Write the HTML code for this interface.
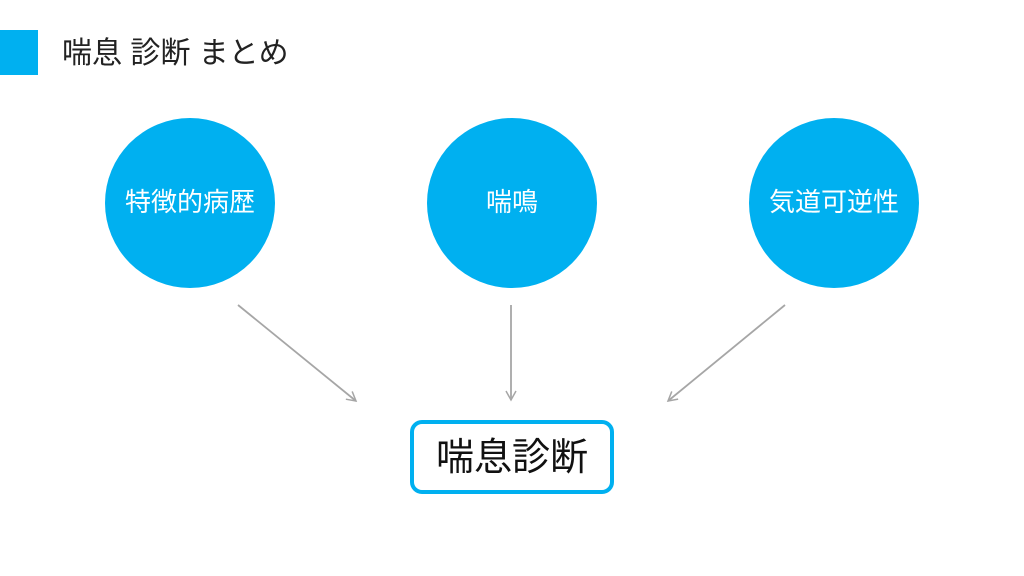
<!DOCTYPE html>
<html><head><meta charset="utf-8"><style>
body{margin:0;width:1024px;height:576px;background:#fff;position:relative;overflow:hidden;font-family:"Liberation Sans","Noto Sans CJK JP",sans-serif}
.t{position:absolute;white-space:nowrap}
</style></head><body>
<div style="position:absolute;left:0;top:30px;width:38px;height:45px;background:#00b0f0"></div>
<div class="t" style="left:62px;top:35px;font-size:30px;line-height:38px;color:#222">喘息 診断 まとめ</div>
<svg width="1024" height="576" style="position:absolute;left:0;top:0">
<defs><marker id="a" markerWidth="12" markerHeight="12" refX="10" refY="6" orient="auto" markerUnits="userSpaceOnUse"><path d="M1,1 L10,6 L1,11" fill="none" stroke="#a6a6a6" stroke-width="1.5"/></marker></defs>
<circle cx="190" cy="203" r="85" fill="#00b0f0"/>
<circle cx="512" cy="203" r="85" fill="#00b0f0"/>
<circle cx="834" cy="203" r="85" fill="#00b0f0"/>
<g stroke="#a6a6a6" stroke-width="1.8" fill="none" marker-end="url(#a)">
<line x1="238" y1="305" x2="356" y2="401"/>
<line x1="511" y1="305" x2="511" y2="400"/>
<line x1="785" y1="305" x2="668" y2="401"/>
</g>
<rect x="412" y="422" width="200" height="70" rx="10" fill="#fff" stroke="#00b0f0" stroke-width="4"/>
<g font-family="Liberation Sans, Noto Sans CJK JP, sans-serif" fill="#fff" font-size="26" text-anchor="middle">
<text x="190" y="211">特徴的病歴</text>
<text x="512" y="211">喘鳴</text>
<text x="834" y="211">気道可逆性</text>
</g>
<text x="512" y="470" font-family="Liberation Sans, Noto Sans CJK JP, sans-serif" font-size="38" fill="#111" text-anchor="middle">喘息診断</text>
</svg>
</body></html>
